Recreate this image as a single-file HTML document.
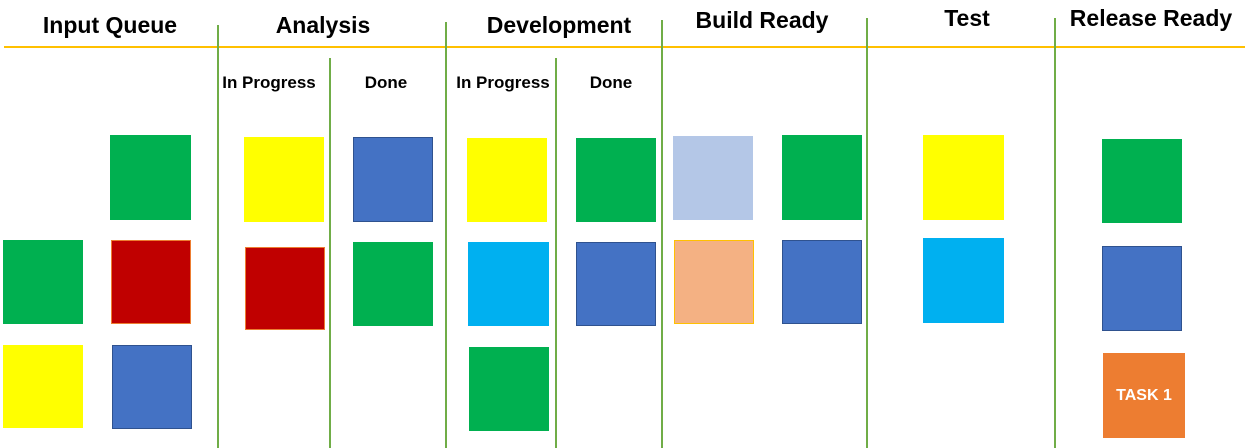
<!DOCTYPE html>
<html><head><style>
body{margin:0;width:1245px;height:448px;background:#fff;position:relative;overflow:hidden;font-family:"Liberation Sans",sans-serif;font-weight:bold;color:#000}
.h{position:absolute;top:12px;font-size:23px;transform:translateX(-50%);white-space:nowrap}
.s{position:absolute;top:73px;font-size:17px;transform:translateX(-50%);white-space:nowrap}
.v{position:absolute;width:2px;background:#70ad47;bottom:0}
.q{position:absolute;box-sizing:border-box}
</style></head><body>
<div style="position:absolute;left:4px;top:46px;width:1241px;height:2px;background:#ffc000"></div>
<div class="v" style="left:217px;top:25px"></div>
<div class="v" style="left:445px;top:22px"></div>
<div class="v" style="left:661px;top:20px"></div>
<div class="v" style="left:866px;top:18px"></div>
<div class="v" style="left:1054px;top:18px"></div>
<div class="v" style="left:329px;top:58px"></div>
<div class="v" style="left:555px;top:58px"></div>
<div class="h" style="left:110px">Input Queue</div>
<div class="h" style="left:323px">Analysis</div>
<div class="h" style="left:559px">Development</div>
<div class="h" style="left:762px;top:7px">Build Ready</div>
<div class="h" style="left:967px;top:5px">Test</div>
<div class="h" style="left:1151px;top:5px">Release Ready</div>
<div class="s" style="left:269px">In Progress</div>
<div class="s" style="left:386px">Done</div>
<div class="s" style="left:503px">In Progress</div>
<div class="s" style="left:611px">Done</div>

<div class="q" style="left:110px;top:135px;width:81px;height:85px;background:#00b050"></div>
<div class="q" style="left:3px;top:240px;width:80px;height:84px;background:#00b050"></div>
<div class="q" style="left:111px;top:240px;width:80px;height:84px;background:#c00000;border:1px solid #ed7d31"></div>
<div class="q" style="left:3px;top:345px;width:80px;height:83px;background:#ffff00"></div>
<div class="q" style="left:112px;top:345px;width:80px;height:84px;background:#4472c4;border:1px solid #2f528f"></div>

<div class="q" style="left:244px;top:137px;width:80px;height:85px;background:#ffff00"></div>
<div class="q" style="left:245px;top:247px;width:80px;height:83px;background:#c00000;border:1px solid #ed7d31"></div>
<div class="q" style="left:353px;top:137px;width:80px;height:85px;background:#4472c4;border:1px solid #2f528f"></div>
<div class="q" style="left:353px;top:242px;width:80px;height:84px;background:#00b050"></div>

<div class="q" style="left:467px;top:138px;width:80px;height:84px;background:#ffff00"></div>
<div class="q" style="left:468px;top:242px;width:81px;height:84px;background:#00b0f0"></div>
<div class="q" style="left:469px;top:347px;width:80px;height:84px;background:#00b050"></div>
<div class="q" style="left:576px;top:138px;width:80px;height:84px;background:#00b050"></div>
<div class="q" style="left:576px;top:242px;width:80px;height:84px;background:#4472c4;border:1px solid #2f528f"></div>

<div class="q" style="left:673px;top:136px;width:80px;height:84px;background:#b4c7e7"></div>
<div class="q" style="left:674px;top:240px;width:80px;height:84px;background:#f4b183;border:1px solid #ffc000"></div>
<div class="q" style="left:782px;top:135px;width:80px;height:85px;background:#00b050"></div>
<div class="q" style="left:782px;top:240px;width:80px;height:84px;background:#4472c4;border:1px solid #2f528f"></div>

<div class="q" style="left:923px;top:135px;width:81px;height:85px;background:#ffff00"></div>
<div class="q" style="left:923px;top:238px;width:81px;height:85px;background:#00b0f0"></div>

<div class="q" style="left:1102px;top:139px;width:80px;height:84px;background:#00b050"></div>
<div class="q" style="left:1102px;top:246px;width:80px;height:85px;background:#4472c4;border:1px solid #2f528f"></div>
<div class="q" style="left:1103px;top:353px;width:82px;height:85px;background:#ed7d31;color:#fff;font-size:16px;display:flex;align-items:center;justify-content:center">TASK 1</div>
</body></html>
